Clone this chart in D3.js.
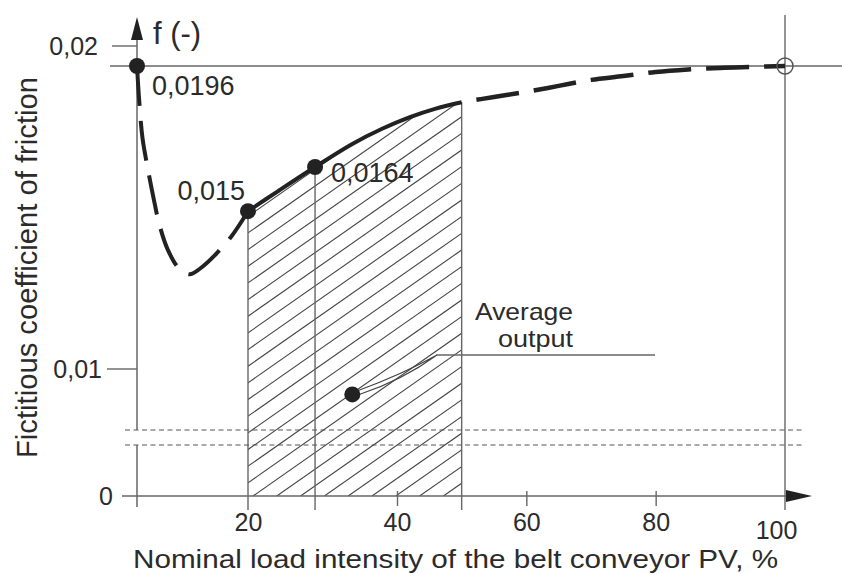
<!DOCTYPE html>
<html>
<head>
<meta charset="utf-8">
<script src="https://cdn.jsdelivr.net/npm/d3@7"></script>
<style>
  body { margin: 0; background: #fff; }
  svg text { font-family: "Liberation Sans", Arial, sans-serif; fill: #2b2b2b; }
</style>
</head>
<body>
<svg id="chart" width="842" height="574"></svg>
<script>
// tick values and labels
const xTicks = [20, 40, 60, 80, 100];
const yTicks = [0, 0.01, 0.02];
const yTickLabels = ["0", "0,01", "0,02"];

// dashed curve at low load (0 - 20 %)
const leftX = [0, 0.4, 1, 2, 3, 4, 5.5, 7.5, 9.5, 11.5, 14, 17, 20];
const leftF = [0.0196, 0.0185, 0.0173, 0.0163, 0.0154, 0.0146, 0.0138, 0.0132, 0.0130, 0.0132, 0.0136, 0.0142, 0.0150];

// solid curve, working range (20 - 50 %)
const midX = [20, 24, 29, 34, 38, 42, 46, 50];
const midF = [0.0150, 0.01563, 0.0164, 0.01713, 0.01761, 0.01798, 0.01825, 0.01845];

// dashed curve up to full load
const rightX = [50, 55, 60, 65, 70, 75, 80, 85, 90, 95, 100];
const rightF = [0.01845, 0.01862, 0.01878, 0.01897, 0.01916, 0.01928, 0.01941, 0.01949, 0.01954, 0.01957, 0.0196];

// marked points
const pointX = [0, 20, 29];
const pointF = [0.0196, 0.015, 0.0164];
const pointLabels = ["0,0196", "0,015", "0,0164"];

const avgX = 34, avgF = 0.008;      // "average output" marker
const refF = 0.0196;                // horizontal reference line
const rangeX = [20, 29, 50];        // vertical lines of the hatched range

const svg = d3.select("#chart");

// the drawing is schematic, so the scales are piecewise
const x = d3.scaleLinear().domain([0, 20, 40, 100]).range([137, 248, 397, 785]);
const y = d3.scaleLinear().domain([0, 0.01, 0.0196, 0.02]).range([496, 369, 66, 46]);

const thin = "#666";
const ink = "#222";
const y0 = y(0);
const breakY = [430, 445];

const curve = d3.curveCatmullRom.alpha(0.5);
const line = d3.line().x(d => x(d[0])).y(d => y(d[1])).curve(curve);
const left = leftX.map((v, i) => [v, leftF[i]]);
const mid = midX.map((v, i) => [v, midF[i]]);
const right = rightX.map((v, i) => [v, rightF[i]]);

// hatched area under working range
svg.append("clipPath").attr("id", "hatchClip")
  .append("path")
  .attr("d", d3.area().x(d => x(d[0])).y0(y0).y1(d => y(d[1])).curve(curve)(mid));

const hatch = svg.append("g").attr("clip-path", "url(#hatchClip)");
for (let k = -26; k < 10; k++) {
  const x0 = x(20) + 5 + k * 23.8;
  hatch.append("line")
    .attr("x1", x0).attr("y1", y0)
    .attr("x2", x0 + 620).attr("y2", y0 - 434)
    .attr("stroke", "#444").attr("stroke-width", 1.1);
}

// reference lines
svg.append("line")
  .attr("x1", 110).attr("x2", 842)
  .attr("y1", y(refF)).attr("y2", y(refF))
  .attr("stroke", thin).attr("stroke-width", 1.4);

svg.append("line")
  .attr("x1", x(100)).attr("x2", x(100))
  .attr("y1", 15).attr("y2", y0 + 14)
  .attr("stroke", thin).attr("stroke-width", 1.4);

// vertical lines bounding the range
rangeX.forEach(v => {
  const top = y(midF[midX.indexOf(v)]);
  svg.append("line")
    .attr("x1", x(v)).attr("x2", x(v))
    .attr("y1", top).attr("y2", y0 + 14)
    .attr("stroke", thin).attr("stroke-width", 1.4);
});

// axis break lines
breakY.forEach(by => {
  svg.append("line")
    .attr("x1", 125).attr("x2", 805)
    .attr("y1", by).attr("y2", by)
    .attr("stroke", "#555").attr("stroke-width", 1.2)
    .attr("stroke-dasharray", "5 3.5");
});

// y axis (broken)
svg.append("line").attr("x1", x(0)).attr("x2", x(0)).attr("y1", 38).attr("y2", breakY[0])
  .attr("stroke", thin).attr("stroke-width", 1.5);
svg.append("line").attr("x1", x(0)).attr("x2", x(0)).attr("y1", breakY[1]).attr("y2", y0 + 11)
  .attr("stroke", thin).attr("stroke-width", 1.5);
svg.append("path").attr("d", `M${x(0) - 6},40 L${x(0)},17 L${x(0) + 6},40 Z`).attr("fill", ink);

// x axis
svg.append("line").attr("x1", 122).attr("x2", 788).attr("y1", y0).attr("y2", y0)
  .attr("stroke", thin).attr("stroke-width", 1.5);
svg.append("path").attr("d", `M786,${y0 - 6} L812,${y0} L786,${y0 + 6} Z`).attr("fill", ink);

// x ticks
const xAxis = d3.axisBottom(x).tickValues(xTicks).tickSize(15).tickPadding(7).tickFormat(d3.format("d"));
const gx = svg.append("g").attr("transform", `translate(0,${y0 - 5})`).call(xAxis);
gx.select(".domain").remove();
gx.selectAll(".tick line").attr("stroke", thin).attr("stroke-width", 1.4)
  .attr("display", d => (d === 20 || d === 100) ? "none" : null);
gx.selectAll(".tick text")
  .attr("font-size", 25).attr("fill", "#2b2b2b")
  .attr("dx", d => d === 100 ? -9 : 0)
  .attr("dy", d => d === 100 ? "1.05em" : "0.71em");

// y ticks
yTicks.forEach((v, i) => {
  if (v > 0) {
    svg.append("line")
      .attr("x1", v === 0.01 ? 107 : 112).attr("x2", x(0))
      .attr("y1", y(v)).attr("y2", y(v))
      .attr("stroke", thin).attr("stroke-width", 1.4);
  }
  svg.append("text")
    .attr("x", v === 0 ? 113 : (v === 0.01 ? 102 : 98))
    .attr("y", y(v) + 9)
    .attr("text-anchor", "end")
    .attr("font-size", 25)
    .text(yTickLabels[i]);
});

// curve
svg.append("path").attr("d", line(left)).attr("fill", "none")
  .attr("stroke", ink).attr("stroke-width", 4).attr("stroke-dasharray", "40 15");
svg.append("path").attr("d", line(mid)).attr("fill", "none")
  .attr("stroke", ink).attr("stroke-width", 4);
svg.append("path").attr("d", line(right)).attr("fill", "none")
  .attr("stroke", ink).attr("stroke-width", 4.5).attr("stroke-dasharray", "43 15")
  .attr("stroke-dashoffset", 43);

// open circle at full load
svg.append("circle").attr("cx", x(100)).attr("cy", y(refF)).attr("r", 8)
  .attr("fill", "none").attr("stroke", "#555").attr("stroke-width", 1.5);

// marked points
const labelOffsets = [[15, 29, "start"], [-3, -11, "end"], [16, 15, "start"]];
pointX.forEach((v, i) => {
  svg.append("circle").attr("cx", x(v)).attr("cy", y(pointF[i])).attr("r", 8).attr("fill", ink);
  const o = labelOffsets[i];
  svg.append("text")
    .attr("x", x(v) + o[0]).attr("y", y(pointF[i]) + o[1])
    .attr("text-anchor", o[2])
    .attr("font-size", 27)
    .text(pointLabels[i]);
});

// average output marker with leader
const ax = x(avgX), ay = y(avgF);
svg.append("path")
  .attr("d", `M${ax + 6},${ay - 4} Q${ax + 50},${ay - 20} 437,355 Q${ax + 50},${ay - 14} ${ax + 7},${ay}`)
  .attr("fill", "none").attr("stroke", "#444").attr("stroke-width", 1.1);
svg.append("line").attr("x1", 437).attr("x2", 655).attr("y1", 355).attr("y2", 355)
  .attr("stroke", thin).attr("stroke-width", 1.4);
svg.append("circle").attr("cx", ax).attr("cy", ay).attr("r", 8).attr("fill", ink);
svg.append("text").attr("x", 475).attr("y", 320).attr("font-size", 24)
  .attr("textLength", 98).attr("lengthAdjust", "spacingAndGlyphs").text("Average");
svg.append("text").attr("x", 498).attr("y", 347).attr("font-size", 24)
  .attr("textLength", 75).attr("lengthAdjust", "spacingAndGlyphs").text("output");

// axis titles
svg.append("text").attr("x", 153).attr("y", 44).attr("font-size", 31).text("f (-)");

svg.append("text")
  .attr("x", 133).attr("y", 568)
  .attr("font-size", 26)
  .attr("textLength", 645).attr("lengthAdjust", "spacingAndGlyphs")
  .text("Nominal load intensity of the belt conveyor PV, %");

svg.append("text")
  .attr("transform", "translate(37,458) rotate(-90)")
  .attr("font-size", 29)
  .attr("textLength", 381).attr("lengthAdjust", "spacingAndGlyphs")
  .text("Fictitious coefficient of friction");
</script>
</body>
</html>
